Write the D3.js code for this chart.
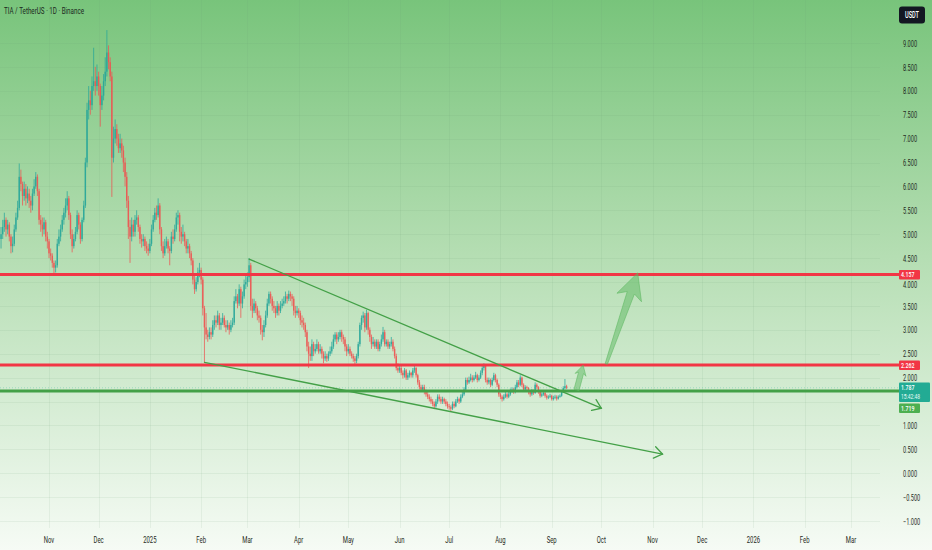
<!DOCTYPE html>
<html>
<head>
<meta charset="utf-8">
<script src="https://cdn.jsdelivr.net/npm/d3@7"></script>
<style>
  body { margin: 0; background: #fff; }
  svg { display: block; }
</style>
</head>
<body>
<svg width="932" height="550"></svg>
<script>
"use strict";

/////////////////////////////////////////////////////
// data: daily candles as [high, low, close], open = previous close
/////////////////////////////////////////////////////
const firstOpen = 4.9;
const oct24 = [[5.15,4.7,5.0],[5.3,4.9,5.15],[5.45,5.05,5.3],[5.35,4.95,5.1],[5.3,5.0,5.2],[5.25,4.85,4.95],[5.0,4.6,4.75],[4.95,4.62,4.8],[5.2,4.75,5.1],[5.45,5.05,5.35],[5.7,5.3,5.55],[6.48,5.5,6.2],[6.35,5.9,6.05],[6.1,5.6,5.8],[6.1,5.7,5.95],[6.05,5.6,5.75],[6.0,5.65,5.85],[5.95,5.55,5.7],[5.8,5.45,5.6],[5.95,5.5,5.85],[6.15,5.8,6.0],[6.3,5.95,6.2],[6.25,5.8,5.9],[5.95,5.2,5.3],[5.4,5.05,5.2],[5.35,4.95,5.1],[5.35,5.0,5.25],[5.3,4.85,4.95],[5.05,4.7,4.85]];
const nov24 = [[4.9,4.5,4.6],[4.7,4.45,4.55],[4.6,4.3,4.4],[4.45,4.18,4.3],[4.45,4.2,4.35],[4.9,4.3,4.8],[5.1,4.75,4.95],[5.2,4.85,5.1],[5.4,5.05,5.3],[5.55,5.2,5.45],[5.75,5.35,5.6],[5.9,5.5,5.75],[5.8,5.3,5.4],[5.45,4.9,5.0],[5.1,4.62,4.75],[5.0,4.7,4.9],[5.15,4.85,5.05],[5.5,5.0,5.4],[5.45,5.1,5.2],[5.25,4.8,4.9],[5.35,4.85,5.3],[5.7,5.25,5.6],[6.6,5.55,6.5],[7.75,6.4,7.6],[8.1,7.4,7.8],[8.0,7.5,7.7],[8.3,7.6,8.1],[8.9,8.0,8.2],[8.5,7.9,8.1],[8.55,8.0,8.3]];
const dec24 = [[8.4,7.9,8.1],[8.15,7.25,7.7],[8.1,7.6,7.9],[8.35,7.8,8.2],[8.7,8.1,8.4],[9.27,8.3,8.8],[8.95,8.45,8.6],[8.7,8.2,8.3],[8.4,5.78,6.6],[7.25,6.5,7.0],[7.4,6.9,7.2],[7.3,6.85,7.0],[7.1,6.7,6.8],[7.1,6.7,6.9],[7.0,6.6,6.75],[6.85,6.3,6.5],[6.6,6.0,6.2],[6.3,5.55,5.7],[5.8,4.9,5.15],[5.3,4.4,4.95],[5.35,4.85,5.2],[5.3,4.95,5.05],[5.4,4.95,5.3],[5.5,5.2,5.35],[5.4,5.05,5.15],[5.2,4.8,4.9],[5.0,4.72,4.85],[5.0,4.75,4.9],[4.95,4.65,4.75],[4.85,4.6,4.7],[4.8,4.55,4.65]];
const jan25 = [[4.9,4.6,4.8],[5.2,4.75,5.1],[5.4,5.05,5.3],[5.55,5.25,5.45],[5.6,5.3,5.4],[5.75,5.35,5.6],[5.65,5.0,5.1],[5.15,4.65,4.75],[4.85,4.5,4.6],[4.9,4.55,4.75],[4.95,4.7,4.85],[4.9,4.6,4.7],[4.75,4.35,4.65],[5.05,4.6,4.95],[5.1,4.8,4.9],[5.2,4.85,5.1],[5.45,5.05,5.35],[5.5,5.2,5.4],[5.45,4.85,5.05],[5.15,4.8,4.95],[5.2,4.85,5.0],[5.05,4.75,4.85],[4.9,4.6,4.7],[4.9,4.6,4.75],[4.8,4.5,4.6],[4.65,4.35,4.45],[4.5,3.95,4.05],[4.15,3.75,3.85],[4.1,3.8,4.0],[4.3,3.95,4.2],[4.4,4.1,4.25]];
const feb25 = [[4.3,3.95,4.05],[4.1,3.3,3.45],[3.5,2.32,3.05],[3.35,2.8,2.9],[3.0,2.75,2.85],[3.05,2.8,2.95],[3.05,2.8,2.9],[3.2,2.85,3.1],[3.3,3.0,3.2],[3.3,3.05,3.15],[3.4,3.1,3.3],[3.35,3.0,3.1],[3.25,3.0,3.15],[3.35,3.1,3.25],[3.3,3.05,3.1],[3.2,2.95,3.05],[3.2,3.0,3.1],[3.15,2.9,3.0],[3.2,2.95,3.1],[3.25,3.05,3.15],[3.7,3.1,3.6],[3.85,3.55,3.7],[3.75,3.45,3.55],[3.95,3.5,3.85],[3.9,3.25,3.55],[3.8,3.45,3.7],[4.05,3.65,3.95],[4.15,3.85,4.0]];
const mar25 = [[4.2,3.9,4.1],[4.5,4.0,4.35],[4.4,3.4,3.5],[3.65,3.25,3.4],[3.65,3.35,3.55],[3.6,3.35,3.45],[3.5,3.2,3.3],[3.4,3.15,3.25],[3.3,2.9,3.0],[3.1,2.78,2.95],[3.2,2.85,3.1],[3.4,3.05,3.3],[3.65,3.25,3.55],[3.8,3.5,3.75],[3.8,3.55,3.65],[3.7,3.4,3.5],[3.6,3.35,3.45],[3.5,3.25,3.35],[3.6,3.3,3.5],[3.55,3.3,3.4],[3.6,3.35,3.5],[3.65,3.45,3.55],[3.7,3.5,3.6],[3.8,3.55,3.7],[3.75,3.55,3.65],[3.82,3.6,3.75],[3.8,3.6,3.7],[3.75,3.5,3.65],[3.7,3.3,3.4],[3.5,3.25,3.35],[3.5,3.3,3.4]];
const apr25 = [[3.45,3.25,3.35],[3.4,3.1,3.2],[3.3,3.05,3.15],[3.25,3.0,3.1],[3.15,2.85,2.95],[3.0,2.55,2.65],[2.75,2.2,2.5],[2.65,2.35,2.45],[2.8,2.35,2.7],[2.75,2.45,2.55],[2.7,2.5,2.6],[2.8,2.55,2.7],[2.75,2.5,2.55],[2.7,2.5,2.6],[2.65,2.4,2.5],[2.55,2.3,2.4],[2.55,2.35,2.45],[2.5,2.33,2.4],[2.55,2.35,2.5],[2.65,2.45,2.55],[2.75,2.5,2.65],[2.9,2.6,2.8],[2.95,2.75,2.9],[2.95,2.7,2.8],[2.95,2.75,2.85],[3.0,2.8,2.95],[3.0,2.75,2.85],[2.9,2.7,2.8],[2.85,2.55,2.65],[2.7,2.45,2.55]];
const may25 = [[2.7,2.5,2.6],[2.65,2.45,2.5],[2.55,2.4,2.45],[2.5,2.33,2.4],[2.45,2.28,2.35],[2.5,2.3,2.45],[2.75,2.4,2.7],[3.15,2.65,3.1],[3.3,3.0,3.25],[3.38,3.15,3.3],[3.35,2.95,3.05],[3.42,3.0,3.35],[3.38,2.9,3.0],[3.05,2.75,2.85],[2.9,2.6,2.7],[2.85,2.65,2.75],[2.8,2.6,2.65],[2.8,2.6,2.75],[2.8,2.55,2.6],[2.75,2.55,2.7],[2.9,2.65,2.8],[3.06,2.75,2.95],[3.0,2.65,2.7],[2.8,2.65,2.75],[2.8,2.6,2.65],[2.75,2.6,2.7],[2.85,2.65,2.75],[2.8,2.55,2.6],[2.65,2.4,2.45],[2.5,2.15,2.2],[2.3,2.1,2.15]];
const jun25 = [[2.25,2.1,2.2],[2.25,2.05,2.1],[2.15,1.98,2.05],[2.2,2.0,2.15],[2.18,1.95,2.0],[2.1,1.95,2.05],[2.15,2.0,2.1],[2.12,2.0,2.05],[2.2,2.0,2.15],[2.26,2.1,2.2],[2.22,2.0,2.05],[2.08,1.85,1.9],[1.95,1.75,1.8],[1.85,1.7,1.75],[1.85,1.7,1.8],[1.85,1.65,1.7],[1.75,1.6,1.65],[1.7,1.55,1.6],[1.65,1.5,1.55],[1.6,1.45,1.5],[1.55,1.4,1.45],[1.5,1.34,1.4],[1.55,1.37,1.5],[1.65,1.45,1.6],[1.65,1.5,1.55],[1.6,1.45,1.5],[1.6,1.45,1.55],[1.58,1.45,1.5],[1.55,1.4,1.45],[1.5,1.35,1.4]];
const jul25 = [[1.45,1.33,1.38],[1.42,1.3,1.35],[1.5,1.32,1.45],[1.5,1.36,1.4],[1.55,1.38,1.5],[1.6,1.47,1.55],[1.58,1.45,1.5],[1.65,1.47,1.6],[1.7,1.57,1.65],[1.8,1.62,1.75],[2.0,1.72,1.95],[2.0,1.85,1.9],[2.02,1.87,1.95],[2.08,1.92,2.0],[2.05,1.9,1.95],[2.05,1.92,2.0],[2.12,1.97,2.05],[2.08,1.9,1.95],[2.05,1.92,2.0],[2.15,1.97,2.1],[2.25,2.05,2.2],[2.3,2.15,2.25],[2.27,1.9,1.95],[2.0,1.85,1.9],[2.0,1.86,1.95],[1.98,1.8,1.85],[2.0,1.82,1.95],[2.1,1.92,2.05],[2.08,1.9,1.95],[1.98,1.8,1.85],[1.88,1.6,1.65]];
const aug25 = [[1.68,1.55,1.6],[1.63,1.5,1.55],[1.65,1.52,1.6],[1.7,1.57,1.65],[1.68,1.56,1.6],[1.7,1.57,1.65],[1.77,1.62,1.72],[1.8,1.68,1.75],[1.78,1.66,1.7],[1.85,1.67,1.8],[1.95,1.77,1.9],[1.95,1.8,1.85],[2.05,1.82,2.0],[2.02,1.8,1.85],[1.88,1.7,1.75],[1.84,1.72,1.8],[1.83,1.73,1.78],[1.8,1.65,1.7],[1.74,1.6,1.65],[1.76,1.62,1.72],[1.75,1.64,1.68],[1.9,1.66,1.85],[1.88,1.76,1.8],[1.82,1.66,1.7],[1.72,1.58,1.62],[1.69,1.59,1.65],[1.72,1.62,1.68],[1.7,1.58,1.62],[1.65,1.54,1.58],[1.63,1.55,1.6],[1.66,1.57,1.62]];
const sep25 = [[1.64,1.52,1.55],[1.62,1.52,1.58],[1.64,1.55,1.6],[1.63,1.52,1.56],[1.63,1.54,1.6],[1.65,1.58,1.62],[1.74,1.6,1.7],[1.82,1.68,1.78],[1.97,1.75,1.82],[1.85,1.76,1.787]];

const monthStarts = ["2024-10-03", "2024-11-01", "2024-12-01", "2025-01-01", "2025-02-01", "2025-03-01",
  "2025-04-01", "2025-05-01", "2025-06-01", "2025-07-01", "2025-08-01", "2025-09-01"];
const monthCandles = [oct24, nov24, dec24, jan25, feb25, mar25, apr25, may25, jun25, jul25, aug25, sep25];

const priceTicks = [9, 8.5, 8, 7.5, 7, 6.5, 6, 5.5, 5, 4.5, 4, 3.5, 3, 2.5, 2, 1.5, 1, 0.5, 0, -0.5, -1];
const timeLabels = ["Nov", "Dec", "2025", "Feb", "Mar", "Apr", "May", "Jun", "Jul", "Aug", "Sep", "Oct",
  "Nov", "Dec", "2026", "Feb", "Mar"];

const resistances = [4.157, 2.262];
const support = 1.719;
const lastPrice = 1.787;
const countdown = "15:42:48";

// drawings (date, price)
const wedgeUpper = [["2025-03-02", 4.48], ["2025-10-01", 1.36]];
const wedgeLower = [["2025-02-03", 2.32], ["2025-11-07", 0.4]];
const arrowSmall = [["2025-09-16", 1.74], ["2025-09-20", 2.26]];
const arrowBig = [["2025-10-04", 2.285], ["2025-10-23", 4.19]];

/////////////////////////////////////////////////////
// setup
/////////////////////////////////////////////////////
const W = 932, H = 550;
const parse = d3.utcParse("%Y-%m-%d");
const svg = d3.select("svg");

const x = d3.scaleUtc()
  .domain([parse("2024-11-01"), parse("2026-03-01")])
  .range([49, 851]);
const y = d3.scaleLinear().domain([-1, 9]).range([521, 43]);

const UP = "#26a69a", DOWN = "#ef5350";
const RED = "#f23645", GREEN = "#43a047", TEAL = "#22ab94";
const FONT = "Roboto, 'Noto Sans', sans-serif";

// squeezed text, the screenshot is narrower than tall
function label(g, px, py, txt, anchor, size, fill, weight) {
  return g.append("text")
    .attr("transform", `translate(${px},${py}) scale(0.66,1)`)
    .attr("text-anchor", anchor || "start")
    .attr("font-family", FONT)
    .attr("font-size", size || 9)
    .attr("font-weight", weight || 400)
    .attr("fill", fill || "#1f2a22")
    .text(txt);
}

/////////////////////////////////////////////////////
// background
/////////////////////////////////////////////////////
const grad = svg.append("defs").append("linearGradient")
  .attr("id", "bg").attr("x1", 0).attr("y1", 0).attr("x2", 0).attr("y2", 1);
grad.append("stop").attr("offset", "0%").attr("stop-color", "#78c47b");
grad.append("stop").attr("offset", "45%").attr("stop-color", "#b3ddb1");
grad.append("stop").attr("offset", "100%").attr("stop-color", "#f6fbf5");
svg.append("rect").attr("width", W).attr("height", H).attr("fill", "url(#bg)");

// faint grid
const monthTicks = d3.utcMonth.range(parse("2024-11-01"), parse("2026-03-02"));
const grid = svg.append("g").attr("stroke", "#6f9f72").attr("stroke-opacity", 0.1);
grid.selectAll(".hg").data(priceTicks).join("line")
  .attr("x1", 0).attr("x2", 880)
  .attr("y1", (d) => Math.round(y(d)) + 0.5).attr("y2", (d) => Math.round(y(d)) + 0.5);
grid.selectAll(".vg").data(monthTicks).join("line")
  .attr("x1", (d) => Math.round(x(d)) + 0.5).attr("x2", (d) => Math.round(x(d)) + 0.5)
  .attr("y1", 0).attr("y2", 528);

/////////////////////////////////////////////////////
// candles
/////////////////////////////////////////////////////
const candles = [];
let prev = firstOpen;
monthCandles.forEach((rows, k) => {
  const start = parse(monthStarts[k]);
  rows.forEach((r, i) => {
    const o = prev, c = r[2];
    candles.push({
      date: d3.utcDay.offset(start, i),
      o: o, c: c,
      h: Math.max(r[0], o, c),
      l: Math.min(r[1], o, c)
    });
    prev = c;
  });
});

const cg = svg.append("g").attr("opacity", 0.92);
cg.selectAll(".wick").data(candles).join("line")
  .attr("x1", (d) => x(d.date)).attr("x2", (d) => x(d.date))
  .attr("y1", (d) => y(d.h)).attr("y2", (d) => y(d.l))
  .attr("stroke", (d) => (d.c >= d.o ? UP : DOWN))
  .attr("stroke-width", 0.8);
cg.selectAll(".body").data(candles).join("rect")
  .attr("x", (d) => x(d.date) - 0.7)
  .attr("width", 1.4)
  .attr("y", (d) => y(Math.max(d.o, d.c)))
  .attr("height", (d) => Math.max(0.8, Math.abs(y(d.o) - y(d.c))))
  .attr("fill", (d) => (d.c >= d.o ? UP : DOWN));

/////////////////////////////////////////////////////
// horizontal levels
/////////////////////////////////////////////////////
svg.append("line")
  .attr("x1", 0).attr("x2", 899)
  .attr("y1", y(lastPrice)).attr("y2", y(lastPrice))
  .attr("stroke", TEAL).attr("stroke-opacity", 0.3)
  .attr("stroke-dasharray", "1,2").attr("stroke-width", 1);

svg.selectAll(".res").data(resistances).join("line")
  .attr("x1", 0).attr("x2", 899)
  .attr("y1", (d) => y(d)).attr("y2", (d) => y(d))
  .attr("stroke", RED).attr("stroke-width", 3);
svg.append("line")
  .attr("x1", 0).attr("x2", 899)
  .attr("y1", y(support)).attr("y2", y(support))
  .attr("stroke", GREEN).attr("stroke-width", 3);

/////////////////////////////////////////////////////
// wedge lines with open arrow heads
/////////////////////////////////////////////////////
function toPx(p) {
  return [x(parse(p[0])), y(p[1])];
}
[wedgeUpper, wedgeLower].forEach((seg) => {
  const a = toPx(seg[0]), b = toPx(seg[1]);
  const ang = Math.atan2(b[1] - a[1], b[0] - a[0]);
  const len = 10, spread = 0.62;
  const g = svg.append("g")
    .attr("stroke", GREEN).attr("stroke-width", 1.3)
    .attr("fill", "none").attr("stroke-linecap", "round");
  g.append("line").attr("x1", a[0]).attr("y1", a[1]).attr("x2", b[0]).attr("y2", b[1]);
  g.append("path").attr("d", d3.line()([
    [b[0] - len * Math.cos(ang - spread), b[1] - len * Math.sin(ang - spread)],
    b,
    [b[0] - len * Math.cos(ang + spread), b[1] - len * Math.sin(ang + spread)]
  ]));
});

/////////////////////////////////////////////////////
// projection arrows
/////////////////////////////////////////////////////
function fatArrow(seg, baseHalf, neckHalf, headHalf, neckBack, headBack) {
  const a = toPx(seg[0]), b = toPx(seg[1]);
  const L = Math.hypot(b[0] - a[0], b[1] - a[1]);
  const u = [(b[0] - a[0]) / L, (b[1] - a[1]) / L];
  const n = [-u[1], u[0]];
  const at = (back, off) => [
    b[0] - u[0] * back + n[0] * off,
    b[1] - u[1] * back + n[1] * off
  ];
  const pts = [
    at(L, -baseHalf), at(neckBack, -neckHalf), at(headBack, -headHalf),
    b,
    at(headBack, headHalf), at(neckBack, neckHalf), at(L, baseHalf)
  ];
  svg.append("path")
    .attr("d", d3.line()(pts) + "Z")
    .attr("fill", "#5cb860").attr("fill-opacity", 0.5)
    .attr("stroke", "#5cb860").attr("stroke-opacity", 0.55)
    .attr("stroke-width", 1);
}
fatArrow(arrowSmall, 2.6, 2.6, 5.6, 8, 10);
fatArrow(arrowBig, 1.2, 3.8, 13, 21, 26);

/////////////////////////////////////////////////////
// price scale
/////////////////////////////////////////////////////
const axis = svg.append("g");
priceTicks.forEach((p) => {
  // labels sitting under the last price tags are hidden by them
  const hidden = Math.abs(p - lastPrice) < 0.3 && p !== 2;
  // a label just under a level tag is pushed down a little
  const nudge = resistances.some((r) => r > p && r - p < 0.2) ? 2.5 : 0;
  if (!hidden) label(axis, 903, y(p) + 3.6 + nudge, d3.format(".3f")(p), "start", 8.5, "#1f2a22");
});

function tag(p, fill, txt, top) {
  const cy = top === undefined ? y(p) - 4.5 : top;
  axis.append("rect")
    .attr("x", 899).attr("y", cy).attr("width", 21).attr("height", 9.5)
    .attr("rx", 1).attr("fill", fill);
  label(axis, 901, cy + 7.3, txt, "start", 8, "#fff", 500);
}
resistances.forEach((p) => tag(p, RED, d3.format(".3f")(p)));

// last price with countdown
axis.append("rect")
  .attr("x", 899).attr("y", 382.5).attr("width", 31).attr("height", 19.5)
  .attr("rx", 1).attr("fill", TEAL);
label(axis, 901, 389.8, d3.format(".3f")(lastPrice), "start", 8, "#fff", 500);
label(axis, 901, 398.8, countdown, "start", 7.5, "#e6fbf7");
tag(support, "#4caf50", d3.format(".3f")(support), 403.5);

// currency button
axis.append("rect")
  .attr("x", 899).attr("y", 6.5).attr("width", 26).attr("height", 17)
  .attr("rx", 3).attr("fill", "#131722");
label(axis, 912, 18, "USDT", "middle", 8.5, "#fff", 500);

/////////////////////////////////////////////////////
// time scale
/////////////////////////////////////////////////////
const tg = svg.append("g");
monthTicks.forEach((d, i) => {
  label(tg, x(d), 543, timeLabels[i], "middle", 9, "#1f2a22");
});

// symbol title
label(svg, 4, 14, "TIA / TetherUS · 1D · Binance", "start", 9.5, "#1b2a1e");
</script>
</body>
</html>
